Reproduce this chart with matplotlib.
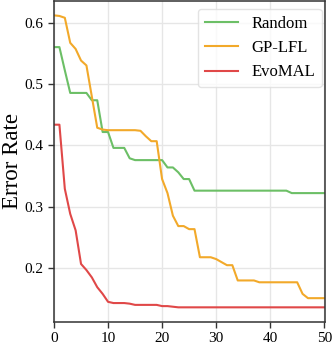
import matplotlib
matplotlib.use("Agg")
import matplotlib.pyplot as plt

plt.rcParams['font.family'] = ['Liberation Serif', 'DejaVu Serif']

# error rate per generation
generations = list(range(51))
random_err = [0.561, 0.561, 0.523, 0.486, 0.486, 0.486, 0.486, 0.474, 0.474, 0.422,
              0.422, 0.396, 0.396, 0.396, 0.379, 0.376, 0.376, 0.376, 0.376, 0.376,
              0.376, 0.364, 0.364, 0.356, 0.345, 0.345, 0.326, 0.326, 0.326, 0.326,
              0.326, 0.326, 0.326, 0.326, 0.326, 0.326, 0.326, 0.326, 0.326, 0.326,
              0.326, 0.326, 0.326, 0.326, 0.322, 0.322, 0.322, 0.322, 0.322, 0.322,
              0.322]
gplfl_err = [0.613, 0.612, 0.609, 0.568, 0.558, 0.539, 0.531, 0.480, 0.429, 0.426,
             0.425, 0.425, 0.425, 0.425, 0.425, 0.425, 0.424, 0.415, 0.407, 0.407,
             0.345, 0.322, 0.285, 0.268, 0.268, 0.263, 0.263, 0.217, 0.217, 0.217,
             0.214, 0.209, 0.204, 0.204, 0.179, 0.179, 0.179, 0.179, 0.176, 0.176,
             0.176, 0.176, 0.176, 0.176, 0.176, 0.176, 0.157, 0.150, 0.150, 0.150,
             0.150]
evomal_err = [0.434, 0.434, 0.329, 0.288, 0.261, 0.206, 0.196, 0.184, 0.168, 0.157,
              0.144, 0.142, 0.142, 0.142, 0.141, 0.139, 0.139, 0.139, 0.139, 0.139,
              0.137, 0.137, 0.136, 0.135, 0.135, 0.135, 0.135, 0.135, 0.135, 0.135,
              0.135, 0.135, 0.135, 0.135, 0.135, 0.135, 0.135, 0.135, 0.135, 0.135,
              0.135, 0.135, 0.135, 0.135, 0.135, 0.135, 0.135, 0.135, 0.135, 0.135,
              0.135]

fig = plt.figure(figsize=(3.33, 3.45), dpi=100)
ax = fig.add_axes([0.1622, 0.0667, 0.8138, 0.9313])

ax.plot(generations, random_err, color='#6cbf66', lw=1.5, label='Random')
ax.plot(generations, gplfl_err, color='#f2a92a', lw=1.5, label='GP-LFL')
ax.plot(generations, evomal_err, color='#e04848', lw=1.5, label='EvoMAL')

ax.set_xlim(0, 50.15)
ax.set_ylim(0.111, 0.637)
ax.set_xticks([0, 10, 20, 30, 40, 50])
ax.set_yticks([0.2, 0.3, 0.4, 0.5, 0.6])
ax.grid(True, color='#e6e6e6', lw=1)
ax.set_axisbelow(True)
ax.tick_params(labelsize=11, length=4, width=1, color='#333333')
for s in ax.spines.values():
    s.set_color('#333333')
    s.set_linewidth(1.1)

ax.set_ylabel('Error Rate', fontsize=16.5, labelpad=1)
ax.legend(loc='upper right', bbox_to_anchor=(0.988, 0.974), borderaxespad=0,
          fontsize=12, frameon=True, edgecolor='#dddddd', fancybox=True)

fig.savefig('out.png', dpi=100)
